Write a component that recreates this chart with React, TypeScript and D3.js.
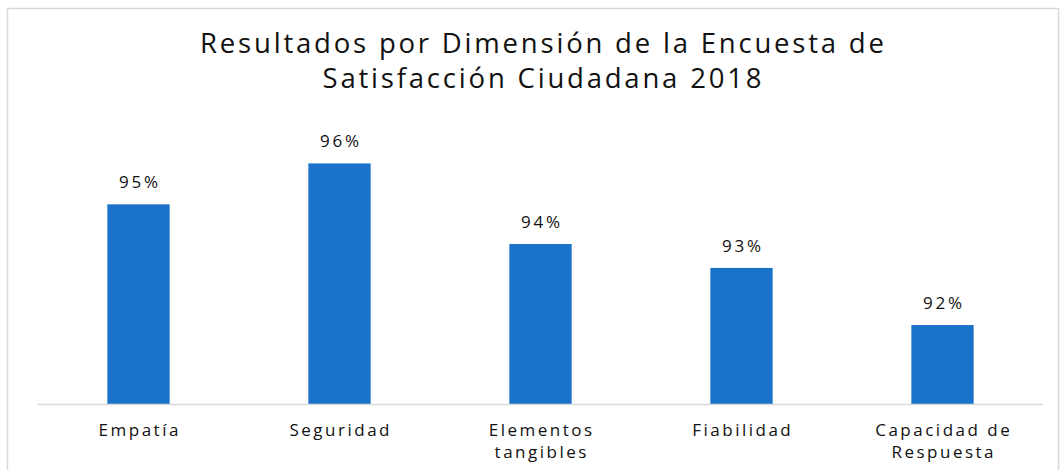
import React from 'react';
import * as d3 from 'd3';

const categories = ['Empatía', 'Seguridad', 'Elementos\ntangibles', 'Fiabilidad', 'Capacidad de\nRespuesta'];
const values = [94.93, 95.94, 93.95, 93.36, 91.95];
const valueLabels = ['95%', '96%', '94%', '93%', '92%'];
const titleLines = ['Resultados por Dimensión de la Encuesta de', 'Satisfacción Ciudadana 2018'];

const width = 1060;
const height = 470;
const margin = { left: 38, right: 17, top: 161, bottom: 66 };
const baseline = height - margin.bottom;
const font = "'Open Sans', 'DejaVu Sans', sans-serif";

const App = () => {
  const x = d3.scaleBand<string>()
    .domain(categories)
    .range([margin.left, width - margin.right])
    .paddingInner(0.69)
    .paddingOuter(0.345);

  const y = d3.scaleLinear()
    .domain([90, 96])
    .range([baseline, margin.top]);

  return (
    <svg width={width} height={height} style={{ position: 'absolute', left: 0, top: 0, fontFamily: font }}>
      <rect x={0} y={0} width={width} height={height} fill="#fff" />
      {/* chart frame */}
      <rect x={7.5} y={8.5} width={1051} height={480} fill="none" stroke="#d9d9d9" strokeWidth={1.5} />

      {titleLines.map((line, i) => (
        <text key={i} x={542} dx={1.4} y={53 + i * 35} textAnchor="middle" fontSize={27.5} letterSpacing={2.8} fill="#111">
          {line}
        </text>
      ))}

      {categories.map((c, i) => (
        <g key={c}>
          <rect
            x={x(c)}
            y={y(values[i])}
            width={x.bandwidth()}
            height={baseline - y(values[i])}
            fill="#1a73c9"
          />
          <text
            x={x(c)! + x.bandwidth() / 2}
            dx={1.4}
            y={y(values[i]) - 16}
            textAnchor="middle"
            fontSize={17}
            letterSpacing={2.8}
            fill="#111"
          >
            {valueLabels[i]}
          </text>
          {c.split('\n').map((part, j) => (
            <text
              key={j}
              x={x(c)! + x.bandwidth() / 2}
              dx={1.25}
              y={436 + j * 22}
              textAnchor="middle"
              fontSize={17}
              letterSpacing={2.5}
              fill="#111"
            >
              {part}
            </text>
          ))}
        </g>
      ))}

      <line x1={margin.left} x2={width - margin.right} y1={baseline + 0.5} y2={baseline + 0.5} stroke="#d9d9d9" strokeWidth={1.5} />
    </svg>
  );
};

export default App;
